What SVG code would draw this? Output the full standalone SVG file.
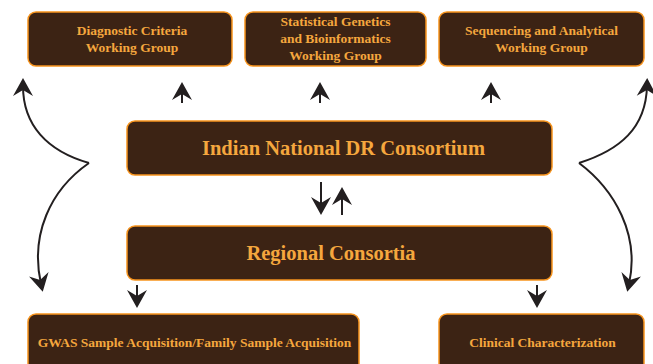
<svg xmlns="http://www.w3.org/2000/svg" width="653" height="364" viewBox="0 0 653 364">
<style>
.box{fill:#3c2314;stroke:#f7941d;stroke-width:1.5}
.t{font-family:"Liberation Serif","Times New Roman",serif;font-weight:bold;fill:#f5a73e;text-anchor:middle}
.s{font-size:13.5px}
.b{font-size:20.5px}
.c{fill:none;stroke:#231f20;stroke-width:2;marker-end:url(#ah)}
</style>
<defs>
<marker id="ah" markerUnits="userSpaceOnUse" markerWidth="40" markerHeight="40" refX="0" refY="0" orient="auto" overflow="visible">
<path d="M8,0 L-10,-10 L-4,0 L-10,10 Z" fill="#231f20"/>
</marker>
</defs>
<rect width="653" height="364" fill="#fff"/>
<g id="diagnostic">
<rect class="box" x="28" y="12" width="204" height="54" rx="8"/>
<text class="t s" x="132" y="35">Diagnostic Criteria</text>
<text class="t s" x="132" y="52">Working Group</text>
</g>
<g id="statgen">
<rect class="box" x="245" y="12" width="181" height="54" rx="8"/>
<text class="t s" x="335.5" y="26">Statistical Genetics</text>
<text class="t s" x="335.5" y="43">and Bioinformatics</text>
<text class="t s" x="335.5" y="60">Working Group</text>
</g>
<g id="sequencing">
<rect class="box" x="439" y="12" width="205" height="54" rx="8"/>
<text class="t s" x="541.5" y="35">Sequencing and Analytical</text>
<text class="t s" x="541.5" y="52">Working Group</text>
</g>
<g id="national">
<rect class="box" x="127" y="121" width="425" height="54" rx="8"/>
<text class="t b" x="343.5" y="155">Indian National DR Consortium</text>
</g>
<g id="regional">
<rect class="box" x="127" y="226" width="425" height="54" rx="8"/>
<text class="t b" x="331" y="260">Regional Consortia</text>
</g>
<g id="gwas">
<rect class="box" x="28" y="314" width="331" height="60" rx="8"/>
<text class="t s" x="194.5" y="347">GWAS Sample Acquisition/Family Sample Acquisition</text>
</g>
<g id="clinical">
<rect class="box" x="439" y="314" width="205" height="60" rx="8"/>
<text class="t s" x="542.5" y="347">Clinical Characterization</text>
</g>
<g id="connectors">
<path class="c" d="M182,103 L182,90"/>
<path class="c" d="M320,103 L320,90"/>
<path class="c" d="M491,103 L491,90"/>
<path class="c" d="M321,182 L321,207"/>
<path class="c" d="M342,215 L342,195"/>
<path class="c" d="M137,285 L137,300"/>
<path class="c" d="M537,285 L537,300"/>
<path class="c" d="M89,163 C47,151 23,125 23,86"/>
<path class="c" d="M89,163 C50,190 30,235 41,284"/>
<path class="c" d="M579,163 C620,150 646,128 647,86"/>
<path class="c" d="M579,163 C615,190 640,235 629,284"/>
</g>
</svg>
